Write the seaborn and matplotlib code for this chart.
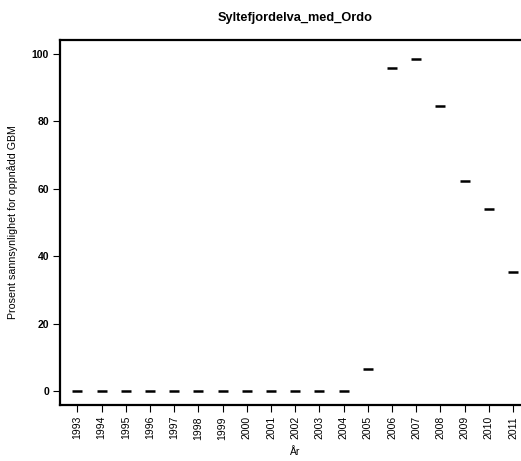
import seaborn as sns
import matplotlib.pyplot as plt
import pandas as pd

years = list(range(1993, 2012))
prosent = [0, 0, 0, 0, 0, 0, 0, 0, 0, 0, 0, 0, 6.8, 95.6, 98.5, 84.6, 62.2, 53.9, 35.4]
title = "Syltefjordelva_med_Ordo"

sns.set_style("ticks")
plt.rcParams["font.family"] = ["Liberation Sans", "DejaVu Sans"]
plt.rcParams.update({"text.color": "black", "axes.labelcolor": "black",
                     "xtick.color": "black", "ytick.color": "black"})

df = pd.DataFrame({"År": years, "Prosent": prosent})

fig = plt.figure(figsize=(5.21, 4.61), dpi=100)
ax = fig.add_axes([0.1152, 0.1215, 0.903, 0.7915])

sns.scatterplot(data=df, x="År", y="Prosent", marker="_", s=55,
                linewidth=1.8, color="black", ax=ax)

ax.set_xlim(1992.28, 2011.72)
ax.set_ylim(-4, 104)
ax.set_xticks(years)
ax.set_xticklabels([str(y) for y in years], rotation=90, fontsize=7.5)
ax.set_yticks([0, 20, 40, 60, 80, 100])
ax.set_yticklabels(["0", "20", "40", "60", "80", "100"], fontsize=7.5, fontweight="bold")
ax.tick_params(length=5, width=0.8, color="black", pad=3)

for s in ax.spines.values():
    s.set_linewidth(1.6)
    s.set_color("black")

ax.set_xlabel("År", fontsize=7.5, labelpad=5)
ax.set_ylabel("Prosent sannsynlighet for oppnådd GBM", fontsize=7.7, labelpad=10)
ax.set_title(title, fontsize=9.2, fontweight="bold", pad=14)

fig.savefig("out.png", dpi=100)
